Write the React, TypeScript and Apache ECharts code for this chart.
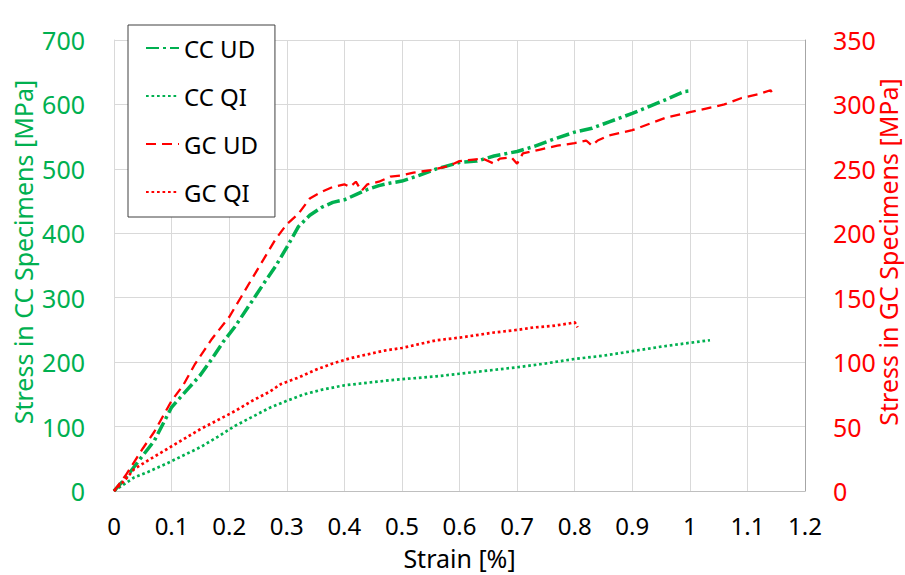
import React, { useEffect, useRef } from "react";
import * as echarts from "echarts";

const GREEN = "#00B050";
const RED = "#FF0000";
const FONT = "'Noto Sans', 'Open Sans', sans-serif";

const seriesNames = ["CC UD", "CC QI", "GC UD", "GC QI"];

const xTicks = { min: 0, max: 1.2, interval: 0.1 };
const leftTicks = { min: 0, max: 700, interval: 100 };
const rightTicks = { min: 0, max: 350, interval: 50 };

// CC UD (left axis, MPa)
const ccUdStrain = [0, 0.02, 0.05, 0.07, 0.1, 0.13, 0.15, 0.17, 0.19, 0.21, 0.24, 0.26, 0.28, 0.3, 0.32, 0.34, 0.36, 0.38, 0.4, 0.42, 0.44, 0.46, 0.48, 0.5, 0.53, 0.56, 0.6, 0.63, 0.66, 0.7, 0.73, 0.76, 0.8, 0.83, 0.86, 0.9, 0.93, 0.96, 0.99, 1.0];
const ccUdStress = [0, 20, 55, 78, 130, 160, 180, 205, 232, 255, 295, 322, 348, 378, 410, 428, 440, 448, 452, 460, 468, 474, 478, 481, 490, 500, 510, 512, 520, 527, 535, 545, 557, 563, 573, 586, 597, 608, 620, 621];

// CC QI (left axis, MPa)
const ccQiStrain = [0, 0.035, 0.06, 0.09, 0.12, 0.15, 0.18, 0.21, 0.24, 0.27, 0.3, 0.33, 0.36, 0.4, 0.44, 0.48, 0.52, 0.56, 0.6, 0.65, 0.7, 0.75, 0.8, 0.85, 0.9, 0.95, 1.0, 1.035];
const ccQiStress = [0, 21, 30, 42, 55, 68, 84, 101, 115, 129, 140, 150, 157, 164, 168, 172, 175, 178, 182, 187, 192, 198, 205, 210, 217, 224, 230, 234];

// GC UD (right axis, MPa)
const gcUdStrain = [0, 0.02, 0.05, 0.07, 0.1, 0.12, 0.14, 0.17, 0.2, 0.22, 0.24, 0.26, 0.28, 0.3, 0.32, 0.34, 0.36, 0.38, 0.4, 0.41, 0.42, 0.43, 0.44, 0.46, 0.48, 0.5, 0.52, 0.55, 0.58, 0.6, 0.62, 0.64, 0.66, 0.67, 0.69, 0.7, 0.71, 0.74, 0.77, 0.8, 0.82, 0.83, 0.84, 0.86, 0.88, 0.9, 0.93, 0.96, 1.0, 1.03, 1.06, 1.09, 1.12, 1.14, 1.143];
const gcUdStress = [0, 12, 33, 46, 70, 82, 98, 118, 135, 150, 165, 180, 195, 207, 215, 227, 232, 236, 238, 236, 240, 233, 238, 240, 244, 245, 247, 249, 252, 256, 257, 258, 254, 258, 259, 254, 262, 265, 268, 270, 272, 268, 272, 276, 278, 280, 285, 290, 294, 297, 300, 305, 308, 311, 309];

// GC QI (right axis, MPa)
const gcQiStrain = [0, 0.02, 0.035, 0.06, 0.09, 0.12, 0.15, 0.18, 0.21, 0.24, 0.27, 0.29, 0.32, 0.35, 0.38, 0.41, 0.44, 0.47, 0.5, 0.53, 0.56, 0.6, 0.63, 0.66, 0.7, 0.73, 0.76, 0.79, 0.8, 0.805];
const gcQiStress = [0, 9, 17, 24, 32, 40, 48, 55, 62, 70, 77, 83, 88, 94, 99, 103, 106, 109, 111, 114, 117, 119, 121, 123, 125, 127, 128, 130, 131, 127];

const zip = (xs: number[], ys: number[]) => xs.map((x, i) => [x, ys[i]]);

export default function App() {
  const ref = useRef<HTMLDivElement>(null);
  useEffect(() => {
    if (!ref.current) return;
    const chart = echarts.init(ref.current, null, { renderer: "svg" });
    chart.setOption({
      animation: false,
      backgroundColor: "#ffffff",
      textStyle: { fontFamily: FONT },
      grid: { left: 114, right: 100, top: 40, bottom: 83 },
      legend: {
        orient: "vertical",
        left: 128,
        top: 25,
        data: seriesNames,
        itemWidth: 33,
        itemHeight: 14,
        itemGap: 24,
        padding: [11, 17, 13, 17],
        borderColor: "#404040",
        borderWidth: 1,
        backgroundColor: "#ffffff",
        selectedMode: false,
        itemStyle: { opacity: 0 },
        textStyle: { fontSize: 24, color: "#000000", fontFamily: FONT, lineHeight: 24 },
      },
      xAxis: {
        type: "value",
        min: xTicks.min,
        max: xTicks.max,
        interval: xTicks.interval,
        name: "Strain [%]",
        nameLocation: "middle",
        nameGap: 54,
        nameTextStyle: { fontSize: 25, color: "#000000", fontFamily: FONT, lineHeight: 25 },
        axisLine: { show: true, lineStyle: { color: "#BFBFBF", width: 1 } },
        axisTick: { show: false },
        axisLabel: { fontSize: 24, color: "#000000", margin: 22, fontFamily: FONT, lineHeight: 24 },
        splitLine: { show: true, lineStyle: { color: "#D9D9D9", width: 1 } },
      },
      yAxis: [
        {
          type: "value",
          position: "left",
          min: leftTicks.min,
          max: leftTicks.max,
          interval: leftTicks.interval,
          axisLine: { show: true, lineStyle: { color: "#D9D9D9", width: 1 } },
          axisTick: { show: false },
          axisLabel: { fontSize: 25, color: GREEN, margin: 29, fontFamily: FONT },
          splitLine: { show: true, lineStyle: { color: "#D9D9D9", width: 1 } },
        },
        {
          type: "value",
          position: "right",
          min: rightTicks.min,
          max: rightTicks.max,
          interval: rightTicks.interval,
          axisLine: { show: true, lineStyle: { color: "#A6A6A6", width: 1 } },
          axisTick: { show: false },
          axisLabel: { fontSize: 25, color: RED, margin: 28, fontFamily: FONT },
          splitLine: { show: false },
        },
      ],
      graphic: [
        {
          type: "text",
          x: 23,
          y: 252,
          rotation: Math.PI / 2,
          style: {
            text: "Stress in CC Specimens [MPa]",
            fill: GREEN,
            font: `25px ${FONT}`,
            textAlign: "center",
            textVerticalAlign: "middle",
          },
        },
        {
          type: "text",
          x: 888,
          y: 252,
          rotation: Math.PI / 2,
          style: {
            text: "Stress in GC Specimens [MPa]",
            fill: RED,
            font: `25px ${FONT}`,
            textAlign: "center",
            textVerticalAlign: "middle",
          },
        },
      ],
      series: [
        {
          name: seriesNames[0],
          type: "line",
          yAxisIndex: 0,
          symbol: "none",
          data: zip(ccUdStrain, ccUdStress),
          lineStyle: { color: GREEN, width: 3.5, type: [13, 4, 3, 4] },
          itemStyle: { color: GREEN },
        },
        {
          name: seriesNames[1],
          type: "line",
          yAxisIndex: 0,
          symbol: "none",
          data: zip(ccQiStrain, ccQiStress),
          lineStyle: { color: GREEN, width: 2.7, type: [2.7, 2.8] },
          itemStyle: { color: GREEN },
        },
        {
          name: seriesNames[2],
          type: "line",
          yAxisIndex: 1,
          symbol: "none",
          data: zip(gcUdStrain, gcUdStress),
          lineStyle: { color: RED, width: 2.3, type: [10, 6] },
          itemStyle: { color: RED },
        },
        {
          name: seriesNames[3],
          type: "line",
          yAxisIndex: 1,
          symbol: "none",
          data: zip(gcQiStrain, gcQiStress),
          lineStyle: { color: RED, width: 2.7, type: [2.7, 2.8] },
          itemStyle: { color: RED },
        },
      ],
    });
    return () => chart.dispose();
  }, []);
  return (
    <div
      ref={ref}
      style={{ position: "fixed", left: 0, top: 0, width: 905, height: 575, background: "#fff" }}
    />
  );
}
